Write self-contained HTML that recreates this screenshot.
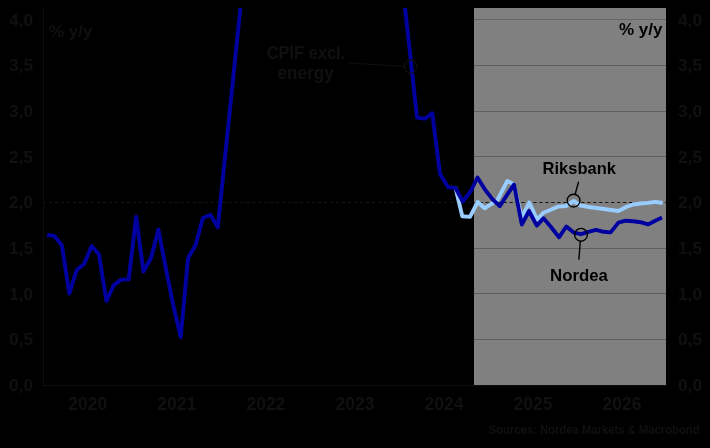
<!DOCTYPE html>
<html><head><meta charset="utf-8"><style>
html,body{margin:0;padding:0;background:#000;}
body{width:710px;height:448px;overflow:hidden;}
svg{display:block;will-change:transform;}
text{font-family:"Liberation Sans",sans-serif;-webkit-font-smoothing:antialiased;}
</style></head><body>
<svg width="710" height="448" viewBox="0 0 710 448">
<defs><clipPath id="pc"><rect x="43" y="8" width="623" height="377"/></clipPath></defs>
<rect x="0" y="0" width="710" height="448" fill="#000"/>
<rect x="474" y="8" width="192" height="377" fill="#808080"/>
<g fill="#5e5e5e"><rect x="474" width="192" y="339" height="1"/><rect x="474" width="192" y="293" height="1"/><rect x="474" width="192" y="248" height="1"/><rect x="474" width="192" y="156" height="1"/><rect x="474" width="192" y="111" height="1"/><rect x="474" width="192" y="65" height="1"/></g><rect x="474" width="192" y="19" height="1" fill="#666"/>
<line x1="43" x2="666" y1="202.5" y2="202.5" stroke="#141414" stroke-width="1" stroke-dasharray="3.3 2.68"/>
<rect x="43" y="8" width="1" height="378" fill="#0d0d0d"/>
<rect x="43" y="385" width="624" height="1" fill="#0d0d0d"/>
<g clip-path="url(#pc)" fill="none" stroke-linejoin="round">
<polyline points="455.4,187.3 462.3,216.2 470.0,216.9 477.7,202.0 484.6,208.3 491.5,203.8 497.5,200.0 507.3,181.0 513.5,184.0 521.8,217.5 529.2,202.5 537.2,219.5 543.5,212.7 550.8,209.7 558.1,206.6 566.0,206.0 573.7,201.0 580.5,205.5 589.0,207.0 596.5,208.0 604.0,209.0 611.0,210.0 618.4,211.0 625.8,207.2 633.2,204.5 640.5,203.5 648.0,202.9 655.3,201.9 662.7,203.0" stroke="#99ccff" stroke-width="3.9"/>
<polyline points="47.0,234.9 54.4,236.0 61.9,245.4 69.3,293.5 76.7,270.1 84.1,264.1 91.6,246.0 99.0,254.5 106.4,301.0 113.8,285.1 121.3,279.6 128.7,279.3 136.1,216.8 143.5,271.5 151.0,258.0 158.4,229.5 165.8,268.0 173.2,305.0 180.7,337.0 188.1,258.0 195.5,245.3 202.9,218.0 210.4,214.8 217.8,227.3 243.3,-20.0 402.0,-20.0 417.0,117.5 425.0,118.8 432.2,113.1 440.0,174.0 448.0,187.1 455.5,188.0 462.8,201.6 470.8,191.0 477.5,177.5 485.1,189.7 492.4,199.1 499.8,206.2 507.0,195.0 514.0,184.6 521.8,224.5 529.0,211.0 536.8,225.6 543.5,218.3 551.0,227.0 559.0,237.3 566.3,226.5 573.7,232.6 581.0,234.2 588.5,231.8 596.0,229.9 603.5,231.8 610.6,232.4 618.4,222.6 625.8,220.7 633.2,221.3 640.5,222.2 648.0,224.4 655.3,220.7 662.0,217.6" stroke="#0000a0" stroke-width="3.9"/>
</g>
<g fill="none" stroke-width="1.4">
<circle cx="410.7" cy="66.6" r="6.4" stroke="#101010" stroke-width="1.2"/>
<line x1="348" y1="62.9" x2="404.3" y2="66.3" stroke="#101010" stroke-width="1"/>
<circle cx="573.6" cy="200.6" r="6.4" stroke="#000"/>
<line x1="578.6" y1="181.7" x2="575" y2="194.8" stroke="#000"/>
<circle cx="581" cy="234.8" r="6.4" stroke="#000"/>
<line x1="580.3" y1="241" x2="578.9" y2="259.8" stroke="#000"/>
</g>
<g fill="#101010" font-size="17.3px" font-weight="bold" text-anchor="end"><text x="33" y="391.1">0,0</text><text x="33" y="345.4">0,5</text><text x="33" y="299.7">1,0</text><text x="33" y="254.0">1,5</text><text x="33" y="208.4">2,0</text><text x="33" y="162.7">2,5</text><text x="33" y="117.0">3,0</text><text x="33" y="71.3">3,5</text><text x="33" y="25.6">4,0</text></g>
<g fill="#101010" font-size="17.3px" font-weight="bold" text-anchor="start"><text x="678" y="391.1">0,0</text><text x="678" y="345.4">0,5</text><text x="678" y="299.7">1,0</text><text x="678" y="254.0">1,5</text><text x="678" y="208.4">2,0</text><text x="678" y="162.7">2,5</text><text x="678" y="117.0">3,0</text><text x="678" y="71.3">3,5</text><text x="678" y="25.6">4,0</text></g>
<g fill="#101010" font-size="17.5px" font-weight="bold" text-anchor="middle"><text x="87.7" y="410">2020</text><text x="176.8" y="410">2021</text><text x="265.9" y="410">2022</text><text x="355" y="410">2023</text><text x="444" y="410">2024</text><text x="533" y="410">2025</text><text x="622" y="410">2026</text></g>
<text x="49" y="36.7" fill="#101010" font-size="17px" font-weight="bold">% y/y</text>
<text x="662.5" y="34.5" fill="#000" font-size="17px" font-weight="bold" text-anchor="end">% y/y</text>
<g fill="#101010" font-size="17px" font-weight="bold" text-anchor="middle">
<text x="306" y="59" font-size="18px" textLength="78.5" lengthAdjust="spacingAndGlyphs">CPIF excl.</text><text x="305.6" y="78.8" font-size="18px" textLength="56.3" lengthAdjust="spacingAndGlyphs">energy</text></g>
<text x="579.3" y="173.7" fill="#000" font-size="16.5px" font-weight="bold" text-anchor="middle">Riksbank</text>
<text x="579" y="280.6" fill="#000" font-size="16.8px" font-weight="bold" text-anchor="middle">Nordea</text>
<text x="699.6" y="434.2" fill="#101010" font-size="12.4px" font-weight="bold" text-anchor="end" textLength="211" lengthAdjust="spacingAndGlyphs">Sources: Nordea Markets &amp; Macrobond</text>
</svg>
</body></html>
